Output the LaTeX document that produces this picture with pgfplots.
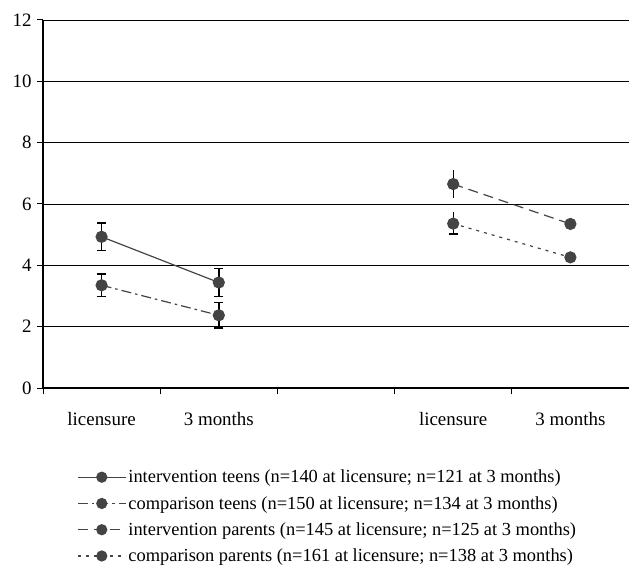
\documentclass[border=0pt]{standalone}
\usepackage{pgfplots}
\pgfplotsset{compat=1.18}
\usepackage{fontspec}
\setmainfont{Liberation Serif}
\definecolor{dg}{HTML}{444444}
\begin{document}
\begin{tikzpicture}
\begin{axis}[
  at={(43bp,179bp)}, anchor=south west,
  scale only axis, width=586bp, height=368bp,
  xmin=0, xmax=5, ymin=0, ymax=12,
  axis lines*=left,
  axis line style={black, line width=1.1bp},
  font=\fontsize{19}{22}\selectfont,
  /pgf/number format/assume math mode=true,
  ytick={0,2,...,12},
  ymajorgrids, grid style={black, line width=0.9bp},
  xtick={0.5,1.5,3.5,4.5},
  xticklabels={licensure,3 months,licensure,3 months},
  minor xtick={0,1,2,3,4,5},
  major x tick style={draw=none},
  minor x tick style={black, line width=1bp},
  minor tick length=6bp,
  tick align=outside,
  major tick length=6bp,
  y tick style={black, line width=1bp},
  xticklabel style={yshift=-15bp},
  yticklabel style={xshift=-2bp},
  clip=false,
  legend style={draw=none, fill=none, at={(0.058,-0.217)}, anchor=north west,
    font=\fontsize{18.5}{22}\selectfont, row sep=8bp, inner sep=0pt},
  legend cell align=left,
  legend image code/.code={\draw[mark repeat=2,mark phase=2, mark size=5bp] plot coordinates {(0bp,0bp)(24bp,0bp)(48bp,0bp)};},
  every axis plot/.append style={dg, line width=1.2bp, mark=*, mark size=5.5bp, mark options={solid, fill=dg, draw=dg}},
]
% error bars (drawn first)
\addplot[forget plot, draw=none, mark=none,
  error bars/.cd, y dir=both, y explicit,
  error bar style={black, solid, line width=1.4bp},
  error mark options={black, solid, rotate=90, mark size=4.5bp, line width=1.4bp}]
  coordinates {(0.5,4.93) +- (0,0.45) (1.5,3.44) +- (0,0.46) (0.5,3.35) +- (0,0.37) (1.5,2.37) +- (0,0.41)};
\addplot[forget plot, draw=none, mark=none,
  error bars/.cd, y dir=both, y explicit, error mark=none,
  error bar style={black, solid, line width=1.4bp}]
  coordinates {(3.5,6.65) +- (0,0.47)};
\addplot[forget plot, draw=none, mark=none,
  error bars/.cd, y dir=plus, y explicit, error mark=none,
  error bar style={black, solid, line width=1.4bp}]
  coordinates {(3.5,5.36) += (0,0.38)};
\addplot[forget plot, draw=none, mark=none,
  error bars/.cd, y dir=minus, y explicit,
  error bar style={black, solid, line width=1.4bp},
  error mark options={black, solid, rotate=90, mark size=4.5bp, line width=1.4bp}]
  coordinates {(3.5,5.36) -= (0,0.34)};
% series
\addplot[solid] coordinates {(0.5,4.93) (1.5,3.44)};
\addlegendentry{intervention teens (n=140 at licensure; n=121 at 3 months)}
\addplot[dash pattern=on 10bp off 4bp on 2.5bp off 4bp] coordinates {(0.5,3.35) (1.5,2.37)};
\addlegendentry{comparison teens (n=150 at licensure; n=134 at 3 months)}
\addplot[dash pattern=on 10bp off 6bp] coordinates {(3.5,6.65) (4.5,5.35)};
\addlegendentry{intervention parents (n=145 at licensure; n=125 at 3 months)}
\addplot[dash pattern=on 3bp off 5bp] coordinates {(3.5,5.36) (4.5,4.26)};
\addlegendentry{comparison parents (n=161 at licensure; n=138 at 3 months)}
\end{axis}
\pgfresetboundingbox
\useasboundingbox (0,0) rectangle (629bp,567bp);
\end{tikzpicture}
\end{document}
